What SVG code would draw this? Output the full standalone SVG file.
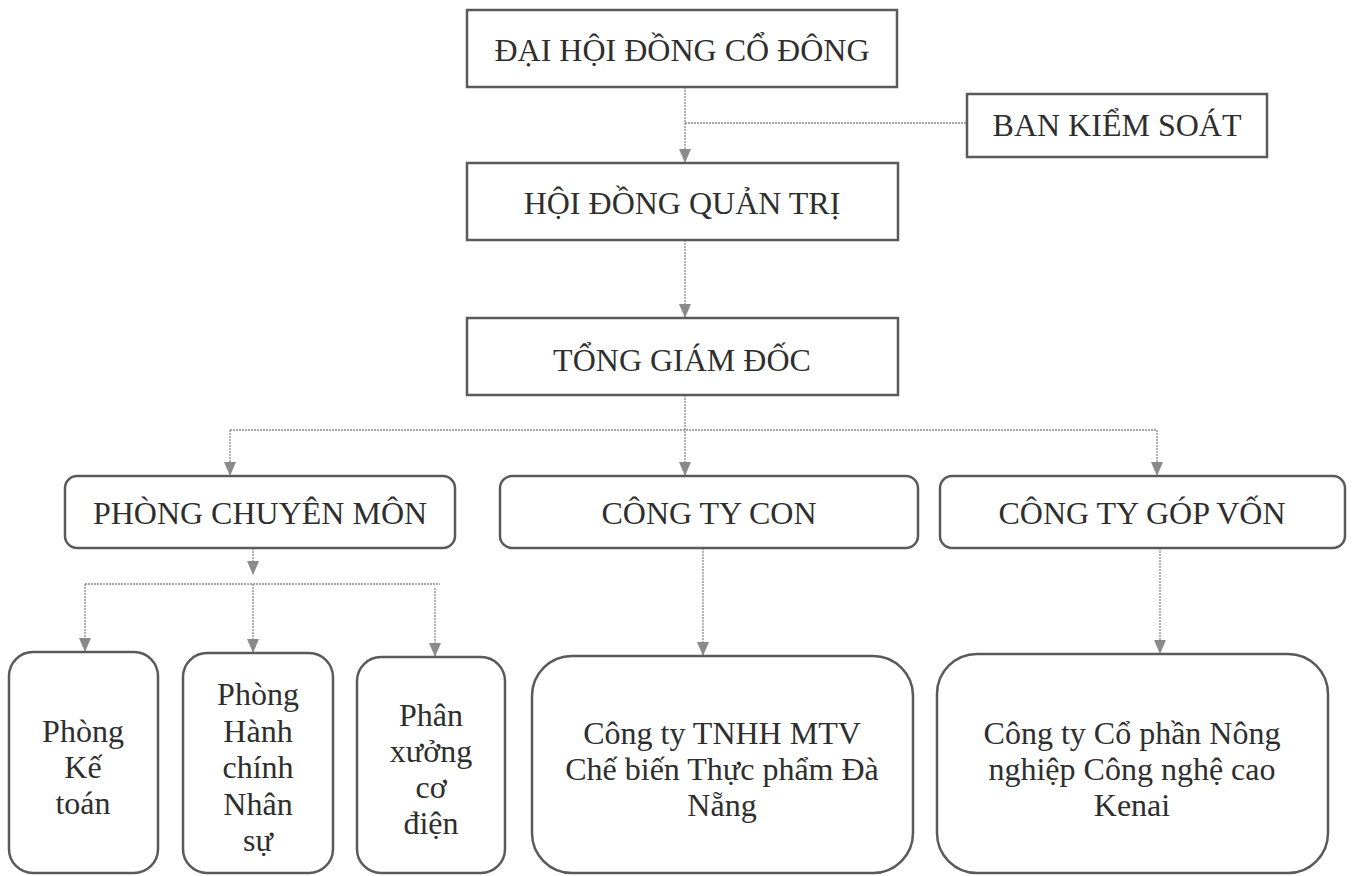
<svg xmlns="http://www.w3.org/2000/svg" width="1355" height="876" viewBox="0 0 1355 876">
<style>
.box{fill:#fff;stroke:#5a5a5a;stroke-width:2.5}
.t{font-family:"Liberation Serif","Times New Roman",serif;font-size:32px;fill:#2e2e2e;text-anchor:middle}
.c{fill:none;stroke:#8a8a8a;stroke-width:1.3;stroke-dasharray:2 1}
.a{marker-end:url(#ah)}
</style>
<defs>
<marker id="ah" viewBox="0 0 14 12" refX="14" refY="6" markerWidth="14" markerHeight="12" markerUnits="userSpaceOnUse" orient="auto">
<path d="M0,0 L14,6 L0,12 Z" fill="#8a8a8a"/>
</marker>
</defs>
<rect width="1355" height="876" fill="#fff"/>
<g id="connectors">
<line class="c a" x1="685" y1="87" x2="685" y2="163"/>
<line class="c" x1="685" y1="123" x2="967" y2="123"/>
<line class="c a" x1="685" y1="240" x2="685" y2="318"/>
<line class="c a" x1="685" y1="395" x2="685" y2="476"/>
<line class="c" x1="230" y1="430" x2="1157" y2="430"/>
<line class="c a" x1="230" y1="430" x2="230" y2="476"/>
<line class="c a" x1="1157" y1="430" x2="1157" y2="476"/>
<line class="c a" x1="253" y1="548" x2="253" y2="575"/>
<line class="c" x1="85" y1="584" x2="440" y2="584"/>
<line class="c a" x1="85" y1="584" x2="85" y2="652"/>
<line class="c a" x1="253" y1="584" x2="253" y2="653"/>
<line class="c a" x1="435" y1="588" x2="435" y2="657"/>
<line class="c a" x1="703" y1="548" x2="703" y2="656"/>
<line class="c a" x1="1160" y1="548" x2="1160" y2="654"/>
</g>
<g id="n-dhdcd"><rect class="box" x="467" y="10" width="430" height="77"/><text class="t" x="682" y="61">ĐẠI HỘI ĐỒNG CỔ ĐÔNG</text></g>
<g id="n-bks"><rect class="box" x="967" y="94" width="300" height="63"/><text class="t" x="1117" y="136">BAN KIỂM SOÁT</text></g>
<g id="n-hdqt"><rect class="box" x="467" y="163" width="431" height="77"/><text class="t" x="682" y="214">HỘI ĐỒNG QUẢN TRỊ</text></g>
<g id="n-tgd"><rect class="box" x="467" y="318" width="431" height="77"/><text class="t" x="682" y="371">TỔNG GIÁM ĐỐC</text></g>
<g id="n-pcm"><rect class="box" x="65" y="476" width="390" height="72" rx="12"/><text class="t" x="260" y="524">PHÒNG CHUYÊN MÔN</text></g>
<g id="n-ctc"><rect class="box" x="500" y="476" width="418" height="72" rx="12"/><text class="t" x="709" y="524">CÔNG TY CON</text></g>
<g id="n-ctgv"><rect class="box" x="940" y="476" width="405" height="72" rx="12"/><text class="t" x="1142" y="524">CÔNG TY GÓP VỐN</text></g>
<g id="n-pkt"><rect class="box" x="9" y="652" width="149" height="221" rx="24"/><text class="t" x="83"><tspan x="83" y="742">Phòng</tspan><tspan x="83" y="778">Kế</tspan><tspan x="83" y="814">toán</tspan></text></g>
<g id="n-phcns"><rect class="box" x="183" y="653" width="150" height="220" rx="24"/><text class="t" x="258"><tspan x="258" y="705">Phòng</tspan><tspan x="258" y="742">Hành</tspan><tspan x="258" y="778">chính</tspan><tspan x="258" y="815">Nhân</tspan><tspan x="258" y="851">sự</tspan></text></g>
<g id="n-pxcd"><rect class="box" x="357" y="657" width="148" height="216" rx="24"/><text class="t" x="431"><tspan x="431" y="726">Phân</tspan><tspan x="431" y="762">xưởng</tspan><tspan x="431" y="798">cơ</tspan><tspan x="431" y="834">điện</tspan></text></g>
<g id="n-cttnhh"><rect class="box" x="532" y="656" width="381" height="217" rx="40"/><text class="t" x="722"><tspan x="722" y="744">Công ty TNHH MTV</tspan><tspan x="722" y="780">Chế biến Thực phẩm Đà</tspan><tspan x="722" y="816">Nẵng</tspan></text></g>
<g id="n-kenai"><rect class="box" x="937" y="654" width="391" height="219" rx="40"/><text class="t" x="1132"><tspan x="1132" y="744">Công ty Cổ phần Nông</tspan><tspan x="1132" y="780">nghiệp Công nghệ cao</tspan><tspan x="1132" y="816">Kenai</tspan></text></g>
</svg>
